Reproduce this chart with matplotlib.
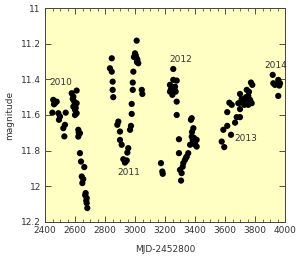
import matplotlib
matplotlib.use("Agg")
import matplotlib.pyplot as plt
from matplotlib.ticker import MultipleLocator

mjd = [
    # 2010
    2455, 2467, 2478, 2449, 2489, 2500, 2493, 2538, 2533, 2522, 2529,
    2578, 2611, 2589, 2595, 2611, 2589, 2600, 2611, 2600, 2622, 2633, 2622,
    2633, 2640, 2662, 2645, 2649, 2671, 2678, 2678, 2682,
    2460, 2585, 2605, 2625, 2655, 2668, 2675,
    # 2011
    2845, 2833, 2845, 2851, 2851, 2855, 2889, 2882, 2900, 2900, 2911, 2955,
    2949, 2922, 2945, 2933, 2973, 2967, 2978, 2978, 2989, 2985, 2985, 3011,
    3000, 3011, 3022, 3045, 3049, 2993, 3013, 2938, 3005, 3016,
    # 2012
    3173, 3182, 3185, 3255, 3255, 3278, 3233, 3245, 3267, 3233, 3271, 3249,
    3278, 3278, 3307, 3311, 3300, 3322, 3333, 3345, 3355, 3293, 3293, 3367,
    3378, 3389, 3400, 3389, 3373, 3378, 3411, 3411, 3380, 3393,
    3240, 3262, 3318, 3340, 3385, 3398,
    # 2013
    3578, 3595, 3589, 3615, 3640, 3615, 3629, 3645, 3667, 3678, 3700, 3700,
    3689, 3700, 3711, 3729, 3722, 3745, 3755, 3767, 3778, 3755, 3773, 3782,
    3733, 3760, 3705, 3740, 3770,
    # 2014
    3918, 3922, 3933, 3955, 3967, 3962, 3955,
]
mag = [
    # 2010
    11.515, 11.534, 11.525, 11.587, 11.590, 11.609, 11.627, 11.587, 11.655, 11.674, 11.720,
    11.478, 11.463, 11.497, 11.525, 11.534, 11.553, 11.571, 11.590, 11.600, 11.683, 11.702, 11.721,
    11.814, 11.861, 11.892, 11.945, 11.982, 12.038, 12.066, 12.094, 12.122,
    11.540, 11.510, 11.560, 11.700, 11.960, 12.050, 12.080,
    # 2011
    11.282, 11.338, 11.357, 11.413, 11.459, 11.500, 11.637, 11.655, 11.693, 11.740, 11.767, 11.786,
    11.811, 11.848, 11.855, 11.867, 11.661, 11.683, 11.538, 11.594, 11.357, 11.418, 11.459, 11.183,
    11.254, 11.282, 11.310, 11.459, 11.482, 11.275, 11.303, 11.860, 11.265, 11.290,
    # 2012
    11.870, 11.917, 11.930, 11.342, 11.403, 11.407, 11.431, 11.450, 11.441, 11.469, 11.469, 11.487,
    11.525, 11.600, 11.968, 11.926, 11.908, 11.870, 11.852, 11.833, 11.814, 11.814, 11.736, 11.767,
    11.721, 11.749, 11.758, 11.674, 11.627, 11.618, 11.739, 11.777, 11.695, 11.728,
    11.455, 11.455, 11.890, 11.840, 11.740, 11.765,
    # 2013
    11.749, 11.780, 11.683, 11.661, 11.711, 11.584, 11.531, 11.543, 11.643, 11.612, 11.612, 11.567,
    11.534, 11.482, 11.511, 11.543, 11.515, 11.459, 11.493, 11.515, 11.534, 11.543, 11.418, 11.431,
    11.515, 11.470, 11.530, 11.500, 11.525,
    # 2014
    11.375, 11.422, 11.431, 11.403, 11.422, 11.435, 11.493,
]

year_labels = ["2010", "2011", "2012", "2013", "2014"]
label_x = [2507, 2956, 3307, 3740, 3940]
label_y = [11.416, 11.92, 11.29, 11.73, 11.32]

fig = plt.figure(figsize=(3.0, 2.59), dpi=100)
ax = fig.add_axes([0.15, 0.143, 0.80, 0.826])
ax.set_facecolor("#FFFFC4")

ax.scatter(mjd, mag, s=20, c="black", edgecolors="none", zorder=3)

for t, x, y in zip(year_labels, label_x, label_y):
    ax.text(x, y, t, fontsize=6.5, color="#333333", ha="center", va="center")

ax.set_xlim(2400, 4000)
ax.set_ylim(12.2, 11.0)
ax.xaxis.set_major_locator(MultipleLocator(200))
ax.xaxis.set_minor_locator(MultipleLocator(50))
ax.set_yticks([11, 11.2, 11.4, 11.6, 11.8, 12, 12.2])
ax.set_yticklabels(["11", "11.2", "11.4", "11.6", "11.8", "12", "12.2"])
ax.tick_params(axis="both", which="major", direction="in", length=4, width=0.6,
               labelsize=6.5, top=True, right=True, colors="#333333", pad=3)
ax.tick_params(axis="x", which="minor", direction="in", length=2, width=0.5,
               top=True, bottom=True, colors="#333333")
for sp in ax.spines.values():
    sp.set_color("#444444")
    sp.set_linewidth(0.7)

ax.set_xlabel("MJD-2452800", fontsize=6.5, color="#333333", labelpad=7)
ax.set_ylabel("magnitude", fontsize=6.5, color="#333333", labelpad=5)

fig.savefig("out.png", dpi=100, facecolor="white")
